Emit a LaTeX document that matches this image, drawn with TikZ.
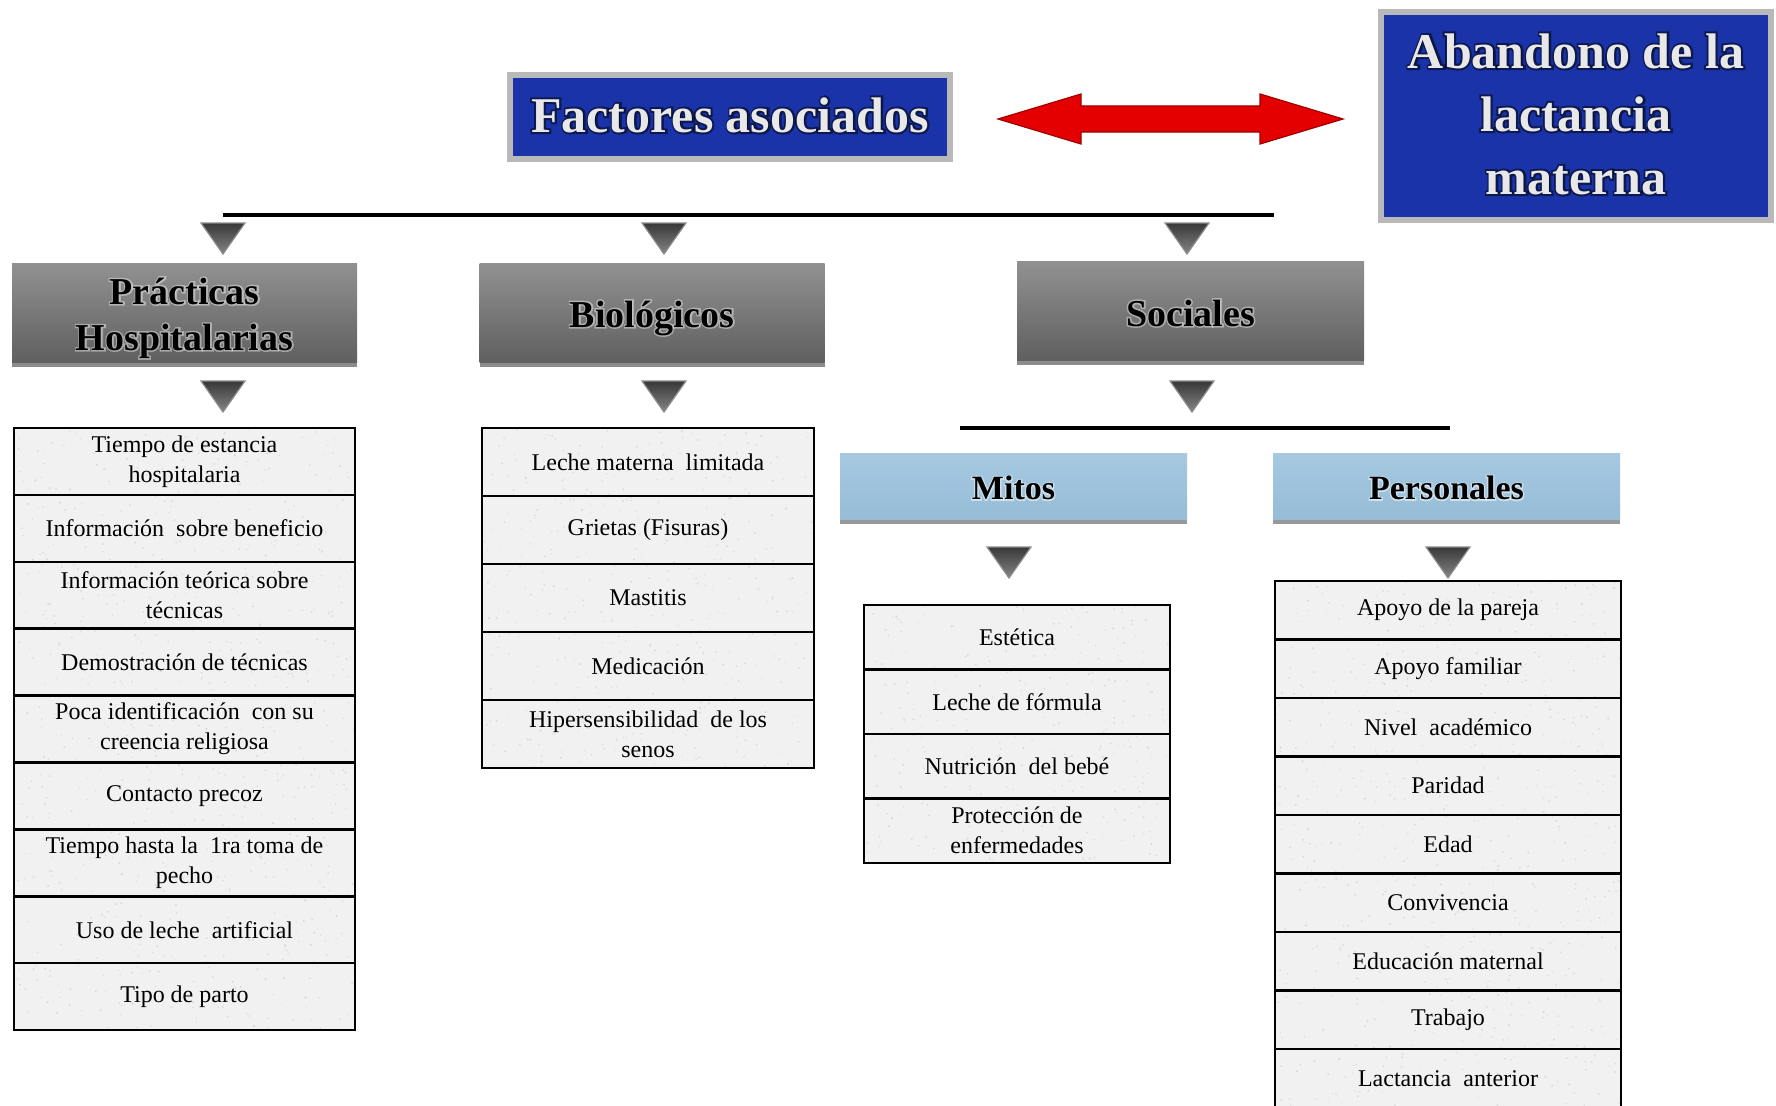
\documentclass[tikz,border=0pt]{standalone}
\usepackage{fontspec}
\setmainfont{Liberation Serif}
\newfontface\glowbold[FakeBold=8]{Liberation Serif Bold}
\usetikzlibrary{shadows,calc}
\definecolor{fablue}{RGB}{26,51,168}
\definecolor{lbluetop}{RGB}{166,201,225}
\definecolor{lbluebot}{RGB}{150,188,214}
\definecolor{cellfill}{RGB}{241,241,241}
\definecolor{arrred}{RGB}{228,0,0}
\definecolor{arrdark}{RGB}{160,0,0}
\definecolor{hdrtop}{RGB}{145,145,145}
\definecolor{hdrbot}{RGB}{96,96,96}
\definecolor{titletext}{RGB}{232,232,232}
\newcommand\hdrsize{\fontsize{38}{46}\selectfont}
\newcommand\subsize{\fontsize{34}{40}\selectfont}
\newcommand\titsize{\fontsize{50}{63}\selectfont}
\newcommand\cellfont{\fontsize{24}{30}\selectfont}
\tikzset{
  x=1pt, y=-1pt,
  bluebox/.style={draw=gray!55, line width=6, fill=fablue, inner sep=0pt},
  greyhdr/.style={top color=hdrtop, bottom color=hdrbot, minimum width=345,
      minimum height=99, inner sep=0pt,
      drop shadow={shadow xshift=0pt, shadow yshift=-5pt, opacity=.45, fill=black}},
  bluehdr/.style={top color=lbluetop, bottom color=lbluebot, minimum width=347,
      minimum height=66, inner sep=0pt,
      drop shadow={shadow xshift=0pt, shadow yshift=-5pt, opacity=.5, fill=black!80}},
  labeltext/.style={align=center, inner sep=0pt},
  cell/.style={draw=black, line width=2.5, fill=cellfill, font=\cellfont,
      align=center, inner sep=0pt,
      path picture={\foreach \k in {1,...,90}{
          \pgfmathsetmacro\rx{rand*175}\pgfmathsetmacro\ry{rand*34}
          \pgfmathsetmacro\rr{0.6+0.6*rnd}
          \fill[gray!28] ([shift={(\rx,\ry)}]path picture bounding box.center) circle (\rr);}}},
  tri/.style={top color=black!78, bottom color=black!48, draw=black!45, line width=1.2},
  hline/.style={draw=black, line width=3.5},
  bigarrow/.style={fill=arrred, draw=arrdark, line width=1.2}
}
% #1 name, #2 position, #3 size command, #4 text colour, #5 glow colour, #6 glow opacity, #7 text
\newcommand\glowlabel[7]{%
  \node[labeltext, font=\glowbold#3, text=#5, opacity=#6] (#1g) at #2 {#7};
  \node[labeltext, font=#3\bfseries, text=#4] (#1) at #2 {#7};}
\newcommand\downtri[2]{\shadedraw[tri] (#1,#2) ++(-22,0) -- ++(44,0) -- ++(-22,31) -- cycle;}
\begin{document}
\begin{tikzpicture}
\pgfmathsetseed{7}
\useasboundingbox (0,0) rectangle (1776,1105);
\fill[white] (0,0) rectangle (1776,1105);

% title boxes
\node[bluebox, minimum width=440, minimum height=84] (fa) at (730,117) {};
\glowlabel{fat}{(730,115)}{\titsize}{titletext}{black}{.5}{Factores asociados}
\node[bluebox, minimum width=390, minimum height=207] (ab) at (1576,116) {};
\glowlabel{abt}{(1576,114)}{\titsize}{titletext}{black}{.5}{Abandono de la\\lactancia\\materna}

% red double arrow between the title boxes
\coordinate (al) at (998,119);
\coordinate (ar) at (1343,119);
\path[bigarrow] (al) -- ++(83,-25) -- ++(0,12) -- ++(179,0) -- ++(0,-12) -- (ar)
   -- ++(-83,25) -- ++(0,-12) -- ++(-179,0) -- ++(0,12) -- cycle;

% top horizontal bar
\coordinate (h1a) at (223,215);
\coordinate (h1b) at (1274,215);
\draw[hline] (h1a) -- (h1b);
\downtri{223}{223}
\downtri{664}{223}
\downtri{1187}{223}

% second level headers
\node[greyhdr] (prac) at (184.5,312.5) {};
\glowlabel{pract}{(184.5,318)}{\hdrsize}{black}{white}{.4}{Prácticas\\Hospitalarias}
\node[greyhdr] (bio) at (652,312.5) {};
\glowlabel{biot}{(652,318)}{\hdrsize}{black}{white}{.4}{Biológicos}
\node[greyhdr, minimum width=347] (soc) at (1190.5,310.5) {};
\glowlabel{soct}{(1190.5,313)}{\hdrsize}{black}{white}{.4}{Sociales}

\downtri{223}{381}
\downtri{664}{381}
\downtri{1192}{381}

% social split bar
\coordinate (h2a) at (960,428);
\coordinate (h2b) at (1450,428);
\draw[hline] (h2a) -- (h2b);

\node[bluehdr] (mit) at (1013.5,486) {};
\glowlabel{mitt}{(1013.5,488)}{\subsize}{black}{white}{.45}{Mitos}
\node[bluehdr] (per) at (1446.5,486) {};
\glowlabel{pert}{(1446.5,488)}{\subsize}{black}{white}{.45}{Personales}

\downtri{1009}{547}
\downtri{1448}{547}

% lists
\foreach \t [count=\i] in {{Tiempo de estancia\\hospitalaria},{Información \ sobre beneficio},
   {Información teórica sobre\\técnicas},{Demostración de técnicas},
   {Poca identificación \ con su\\creencia religiosa},{Contacto precoz},
   {Tiempo hasta la \ 1ra toma de\\pecho},{Uso de leche \ artificial},{Tipo de parto}}{
  \node[cell, minimum width=341, minimum height=66.9] (pr\i) at (184.5,{428+66.9*(\i-0.5)}) {\t};}

\foreach \t [count=\i] in {{Leche materna \ limitada},{Grietas (Fisuras)},{Mastitis},
   {Medicación},{Hipersensibilidad \ de los\\senos}}{
  \node[cell, minimum width=332, minimum height=68] (bi\i) at (648,{428+68*(\i-0.5)}) {\t};}

\foreach \t [count=\i] in {{Estética},{Leche de fórmula},{Nutrición \ del bebé},
   {Protección de\\enfermedades}}{
  \node[cell, minimum width=306, minimum height=64.5] (mi\i) at (1017,{605+64.5*(\i-0.5)}) {\t};}

\foreach \t [count=\i] in {{Apoyo de la pareja},{Apoyo familiar},{Nivel \ académico},
   {Paridad},{Edad},{Convivencia},{Educación maternal},{Trabajo},{Lactancia \ anterior}}{
  \node[cell, minimum width=346, minimum height=58.5] (pe\i) at (1448,{581+58.5*(\i-0.5)}) {\t};}
\end{tikzpicture}
\end{document}
